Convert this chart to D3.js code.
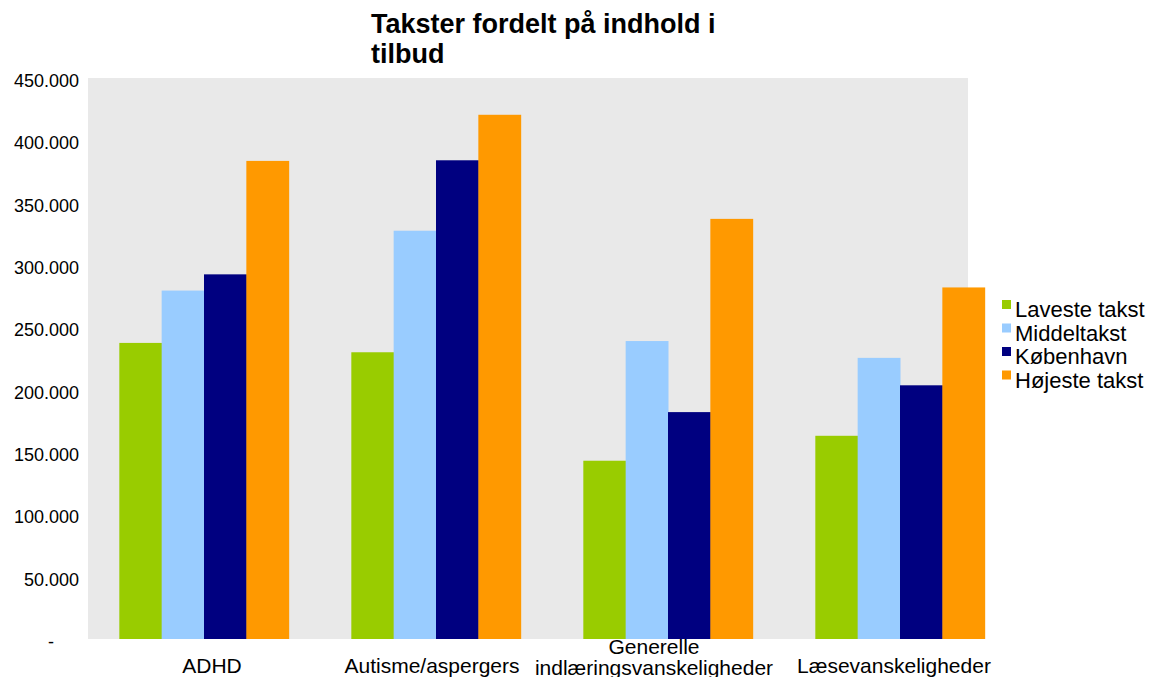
<!DOCTYPE html>
<html>
<head>
<meta charset="utf-8">
<script src="https://cdn.jsdelivr.net/npm/d3@7"></script>
<style>
  body { margin: 0; background: #fff; }
  text { font-family: "Liberation Sans", Arial, sans-serif; fill: #000; }
</style>
</head>
<body>
<div id="wrapper"></div>
<script>
'use strict';
//#region DATA
const categories = ['ADHD', 'Autisme/aspergers', 'Generelle indlæringsvanskeligheder', 'Læsevanskeligheder'];
const categoryLines = [['ADHD'], ['Autisme/aspergers'], ['Generelle', 'indlæringsvanskeligheder'], ['Læsevanskeligheder']];
const seriesNames = ['Laveste takst', 'Middeltakst', 'København', 'Højeste takst'];
const lavesteTakst = [237500, 230000, 143000, 163000];
const middeltakst = [279500, 327500, 239000, 225500];
const koebenhavn = [292500, 384000, 182000, 203500];
const hoejesteTakst = [383500, 420500, 337000, 282000];
const yTicks = [0, 50000, 100000, 150000, 200000, 250000, 300000, 350000, 400000, 450000];
const seriesColours = ['#99cc00', '#99ccff', '#000080', '#ff9900'];
//#endregion DATA

function drawBars () {
  const seriesValues = [lavesteTakst, middeltakst, koebenhavn, hoejesteTakst];
  const dataset = categories.map((c, i) => ({
    category: c,
    values: seriesNames.map((s, j) => ({series: s, value: seriesValues[j][i]}))
  }));

  //#region CHART DIMENSIONS
  const dimensions = {
    width: 1154,
    height: 677,
    plot: {left: 88, right: 968, top: 78, bottom: 639},
    barsRight: 1016
  };
  //#endregion CHART DIMENSIONS

  //#region DRAW CANVAS
  const wrapper = d3.select('#wrapper')
    .append('svg')
    .attr('width', dimensions.width)
    .attr('height', dimensions.height);

  wrapper.append('rect')
    .attr('x', dimensions.plot.left)
    .attr('y', dimensions.plot.top)
    .attr('width', dimensions.plot.right - dimensions.plot.left)
    .attr('height', dimensions.plot.bottom - dimensions.plot.top)
    .attr('fill', '#e9e9e9');
  //#endregion DRAW CANVAS

  //#region SCALES
  const x0Scale = d3.scaleBand()
    .domain(categories)
    .range([dimensions.plot.left, dimensions.barsRight])
    .paddingInner(0.27)
    .paddingOuter(0.135);
  const x1Scale = d3.scaleBand()
    .domain(seriesNames)
    .range([0, x0Scale.bandwidth()]);
  const yScale = d3.scaleLinear()
    .domain([0, 450000])
    .range([dimensions.plot.bottom, dimensions.plot.top]);
  const colourScale = d3.scaleOrdinal()
    .domain(seriesNames)
    .range(seriesColours);
  //#endregion SCALES

  //#region DRAW DATA
  const groups = wrapper.append('g').selectAll('g')
    .data(dataset)
    .join('g')
    .attr('transform', d => `translate(${x0Scale(d.category)},0)`);

  groups.selectAll('rect')
    .data(d => d.values)
    .join('rect')
    .attr('x', d => x1Scale(d.series))
    .attr('y', d => yScale(d.value))
    .attr('width', x1Scale.bandwidth() + 0.5)
    .attr('height', d => yScale(0) - yScale(d.value))
    .attr('fill', d => colourScale(d.series));
  //#endregion DRAW DATA

  //#region DRAW PERIPHERALS
  const locale = d3.formatLocale({decimal: ',', thousands: '.', grouping: [3], currency: ['', '']});
  const fmt = locale.format(',');

  const yAxis = wrapper.append('g');
  yAxis.selectAll('text')
    .data(yTicks)
    .join('text')
    .attr('x', d => d === 0 ? 54 : 79)
    .attr('y', d => yScale(d) + 9)
    .attr('text-anchor', 'end')
    .style('font-size', '18px')
    .text(d => d === 0 ? '-' : fmt(d));

  // label centres in the reference sit a little off the bar groups
  const labelShift = [8, -4, -14, -6];
  const xAxis = wrapper.append('g');
  const xLabels = xAxis.selectAll('text')
    .data(categories)
    .join('text')
    .attr('text-anchor', 'middle')
    .style('font-size', '21px');
  xLabels.each(function (d, i) {
    const lines = categoryLines[i];
    const cx = x0Scale(d) + x0Scale.bandwidth() / 2 + labelShift[i];
    const baselines = lines.length === 1 ? [673] : [654, 675];
    d3.select(this).selectAll('tspan')
      .data(lines)
      .join('tspan')
      .attr('x', cx)
      .attr('y', (l, k) => baselines[k])
      .text(l => l);
  });

  const title = wrapper.append('text')
    .style('font-size', '27px')
    .style('font-weight', 'bold');
  title.append('tspan').attr('x', 371).attr('y', 33).text('Takster fordelt på indhold i');
  title.append('tspan').attr('x', 371).attr('y', 63).text('tilbud');

  const legend = wrapper.append('g')
    .attr('transform', 'translate(1002, 300)');
  const legendItems = legend.selectAll('g')
    .data(seriesNames)
    .join('g')
    .attr('transform', (d, i) => `translate(0, ${i * 23.5})`);
  legendItems.append('rect')
    .attr('width', 9)
    .attr('height', 9)
    .attr('fill', d => colourScale(d));
  legendItems.append('text')
    .attr('x', 13)
    .attr('y', 17)
    .style('font-size', '22px')
    .text(d => d);
  //#endregion DRAW PERIPHERALS
}
drawBars();
</script>
</body>
</html>
